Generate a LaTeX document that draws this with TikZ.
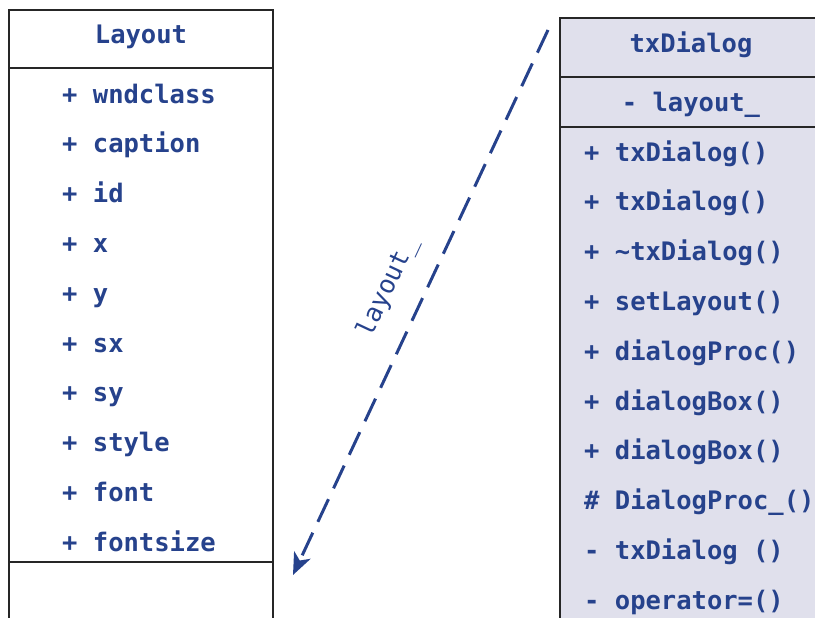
\documentclass[tikz,border=0pt]{standalone}
\usepackage{fontspec}
\setmonofont{DejaVu Sans Mono}
\usetikzlibrary{arrows.meta}

\definecolor{umlblue}{RGB}{38,66,140}
\definecolor{umlfill}{RGB}{224,224,236}

\tikzset{
  classline/.style={line width=2.5pt, black!85},
  member/.style={anchor=base west, inner sep=0pt, text=umlblue,
    text height=19pt, text depth=6pt,
    font=\ttfamily\bfseries\fontsize{25.5}{25.5}\selectfont},
  classname/.style={member, anchor=base},
  assoc/.style={umlblue, line width=3pt, dash pattern=on 25pt off 12pt,
    -{Stealth[length=22pt, width=18pt, inset=6pt]}},
}

\begin{document}
\begin{tikzpicture}[x=1pt, y=-1pt]
\useasboundingbox (0,0) rectangle (815,618);
\clip (0,0) rectangle (815,618);

% Layout class
\draw[classline] (9, 640) -- (9, 10) -- (273, 10) -- (273, 640);
\draw[classline] (9, 68) -- (273, 68);
\draw[classline] (9, 562) -- (273, 562);
\node[classname] (layout) at (141, 44) {Layout};
\foreach \m [count=\i from 0] in {wndclass, caption, id, x, y, sx, sy, style, font, fontsize}
  \node[member] (attr\i) at (62, 103 + 49.8*\i) {+ \m};

% txDialog class
\filldraw[classline, fill=umlfill] (560, 640) -- (560, 18) -- (824, 18) -- (824, 640);
\draw[classline] (560, 77) -- (824, 77);
\draw[classline] (560, 127) -- (824, 127);
\node[classname] (dialog) at (691, 53) {txDialog};
\node[classname] (field) at (691, 112) {- layout\_};
\foreach \v/\m [count=\i from 0] in {+/txDialog(), +/txDialog(), +/\textasciitilde txDialog(),
    +/setLayout(), +/dialogProc(), +/dialogBox(), +/dialogBox(), \#/DialogProc\_(),
    -/txDialog (), -/operator=()}
  \node[member] (op\i) at (584, 161 + 49.8*\i) {\v\ \m};

% association
\coordinate (from) at (548, 30);
\coordinate (to) at (293, 575);
\draw[assoc] (from) -- (to)
  node[midway, sloped, above=22pt, inner sep=0pt, text=umlblue,
       font=\ttfamily\fontsize{25.5}{25.5}\selectfont] (role) {layout\_};
\end{tikzpicture}
\end{document}
